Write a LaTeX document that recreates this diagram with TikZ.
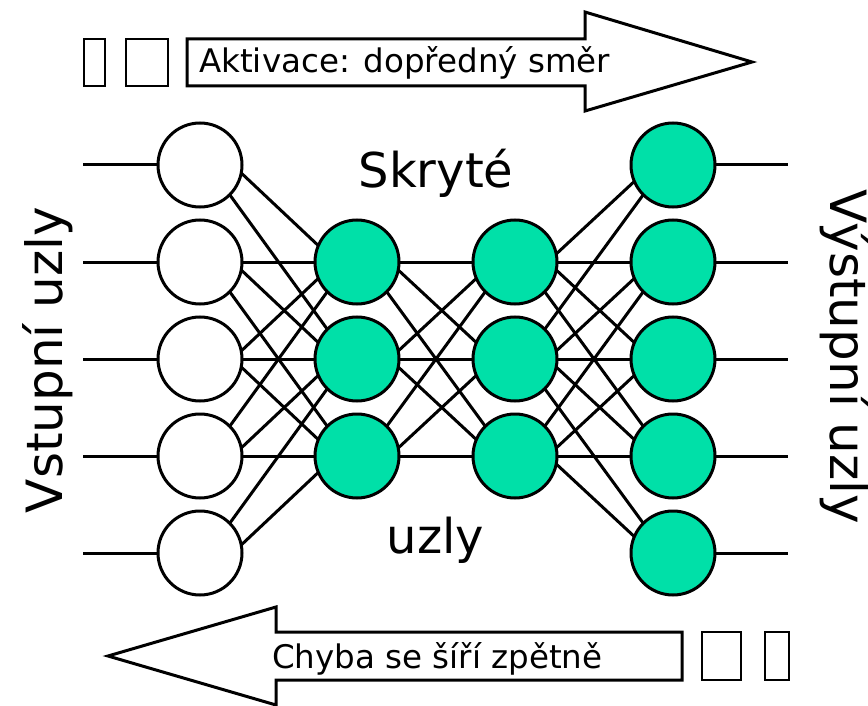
\documentclass[tikz,border=0pt]{standalone}
\usepackage{fontspec}
\setmainfont{DejaVu Sans}
\definecolor{nodegreen}{RGB}{0,224,168}
\newcommand{\nnwire}[3]{%
  \ifnum#3=0 \draw[link] (#1.0) -- (#2.180);\fi
  \ifnum#3=1 \draw[link] (#1.-11) -- (#2.157);\fi
  \ifnum#3=-1 \draw[link] (#1.11) -- (#2.203);\fi
  \ifnum#3=2 \draw[link] (#1.-45) -- (#2.135);\fi
  \ifnum#3=-2 \draw[link] (#1.45) -- (#2.225);\fi
}
\begin{document}
\begin{tikzpicture}[x=1pt,y=-1pt,
  neuron/.style={circle, draw=black, line width=3pt, minimum size=84pt, inner sep=0pt, outer sep=0pt},
  inneuron/.style={neuron, fill=white},
  hidneuron/.style={neuron, fill=nodegreen},
  link/.style={line width=3pt},
  tofu/.style={draw, line width=2.5pt},
  bigarrow/.style={draw, line width=3pt, fill=white, line join=miter},
  biglabel/.style={font=\fontsize{48}{50}\selectfont, inner sep=0pt},
  sidelabel/.style={font=\fontsize{50}{52}\selectfont, inner sep=0pt},
  arrowlabel/.style={font=\fontsize{32.5}{34}\selectfont, inner sep=0pt, anchor=base west}]
\useasboundingbox (0,0) rectangle (868,706);

% top arrow
\draw[bigarrow] (187,39) -- (585,39) -- (585,12) -- (752,62) -- (585,111) -- (585,86) -- (187,86) -- cycle;
\draw[tofu] (84,39) rectangle (105,86);
\draw[tofu] (126,39) rectangle (168,86);
\node[arrowlabel] (fwd) at (199,73) {Aktivace: dopředný směr};

% bottom arrow
\draw[bigarrow] (682,632) -- (276,632) -- (276,607) -- (108,656) -- (276,705) -- (276,680) -- (682,680) -- cycle;
\draw[tofu] (702,632) rectangle (741,680);
\draw[tofu] (765,632) rectangle (789,680);
\node[arrowlabel] (bwd) at (272,668) {Chyba se šíří zpětně};

% nodes
\foreach \k/\y in {1/165,2/262,3/359,4/456,5/553}{
  \node[inneuron] (i\k) at (200,\y) {};
  \node[hidneuron] (o\k) at (673,\y) {};
  \coordinate (ia\k) at (83,\y);
  \coordinate (ob\k) at (788,\y);
}
\foreach \k/\y in {1/262,2/359,3/456}{
  \node[hidneuron] (a\k) at (357,\y) {};
  \node[hidneuron] (b\k) at (515,\y) {};
}

% connectors
\foreach \k in {1,...,5}{
  \draw[link] (ia\k) -- (i\k);
  \draw[link] (o\k) -- (ob\k);
}
\foreach \s/\t/\d in {i1/a1/1, i1/a2/2,
                      i2/a1/0, i2/a2/1, i2/a3/2,
                      i3/a1/-1, i3/a2/0, i3/a3/1,
                      i4/a1/-2, i4/a2/-1, i4/a3/0,
                      i5/a2/-2, i5/a3/-1,
                      a1/b1/0, a1/b2/1, a1/b3/2,
                      a2/b1/-1, a2/b2/0, a2/b3/1,
                      a3/b1/-2, a3/b2/-1, a3/b3/0,
                      b1/o1/-1, b1/o2/0, b1/o3/1, b1/o4/2,
                      b2/o1/-2, b2/o2/-1, b2/o3/0, b2/o4/1, b2/o5/2,
                      b3/o2/-2, b3/o3/-1, b3/o4/0, b3/o5/1}{
  \nnwire{\s}{\t}{\d}
}

% labels
\node[biglabel, anchor=base] (skryte) at (436,187) {Skryté};
\node[biglabel, anchor=base] (uzly) at (435.5,553) {uzly};
\node[sidelabel, rotate=90, anchor=base] (vstup) at (62,360) {Vstupní uzly};
\node[sidelabel, rotate=-90, anchor=base] (vystup) at (830,357) {Výstupní uzly};
\end{tikzpicture}
\end{document}
